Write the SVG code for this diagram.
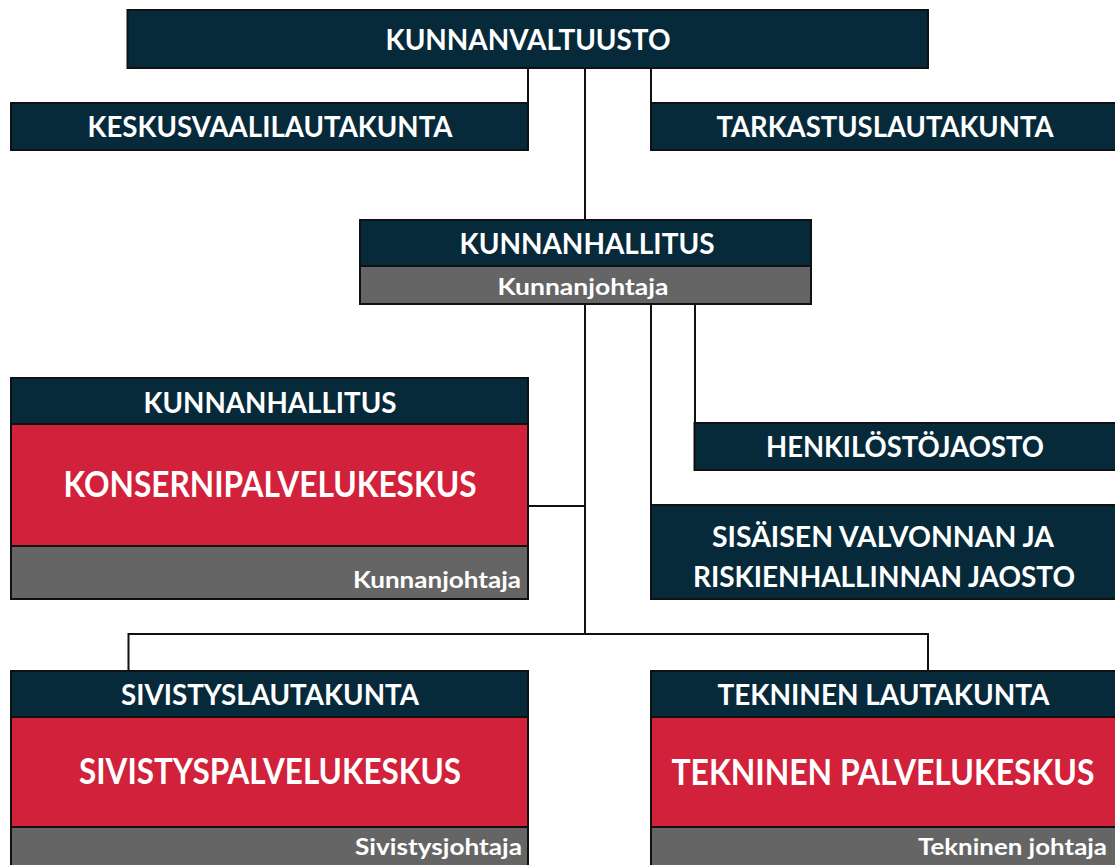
<svg xmlns="http://www.w3.org/2000/svg" width="1115" height="865" viewBox="0 0 1115 865">
<style>
.bg{fill:#ffffff}
.navy{fill:#072a3a;stroke:#111;stroke-width:2}
.red{fill:#d2213a;stroke:#111;stroke-width:2}
.gray{fill:#656565;stroke:#111;stroke-width:2}
.t{font-family:Lato,"Liberation Sans",sans-serif;font-weight:bold;fill:#ffffff}
.h{font-size:28px}
.big{font-size:37px}
.sub{font-size:22px}
.c{text-anchor:middle}
.r{text-anchor:end}
.ln{stroke:#111;stroke-width:2;fill:none}
</style>
<rect class="bg" x="0" y="0" width="1115" height="865"/>
<g id="connectors">
<path class="ln" d="M585,68 V220"/>
<path class="ln" d="M528,68 V103"/>
<path class="ln" d="M651,68 V103"/>
<path class="ln" d="M585,304 V634"/>
<path class="ln" d="M651,304 V505"/>
<path class="ln" d="M695,304 V423"/>
<path class="ln" d="M528,506 H585"/>
<path class="ln" d="M128.5,671 V634 H928 V671"/>
</g>
<g id="kunnanvaltuusto">
<rect class="navy" x="127.5" y="10" width="800.5" height="58"/>
<text class="t h c" x="528" y="50" textLength="285" lengthAdjust="spacingAndGlyphs">KUNNANVALTUUSTO</text>
</g>
<g id="keskusvaalilautakunta">
<rect class="navy" x="11" y="103" width="517" height="47"/>
<text class="t h c" x="270" y="137" textLength="365" lengthAdjust="spacingAndGlyphs">KESKUSVAALILAUTAKUNTA</text>
</g>
<g id="tarkastuslautakunta">
<rect class="navy" x="651" y="103" width="470" height="47"/>
<text class="t h c" x="885" y="137" textLength="337" lengthAdjust="spacingAndGlyphs">TARKASTUSLAUTAKUNTA</text>
</g>
<g id="kunnanhallitus">
<rect class="navy" x="360" y="220" width="451" height="46"/>
<rect class="gray" x="360" y="266" width="451" height="38"/>
<text class="t h c" x="587" y="254" textLength="255" lengthAdjust="spacingAndGlyphs">KUNNANHALLITUS</text>
<text class="t sub c" x="583" y="295" textLength="171" lengthAdjust="spacingAndGlyphs">Kunnanjohtaja</text>
</g>
<g id="henkilostojaosto">
<rect class="navy" x="694.5" y="423" width="426" height="47"/>
<text class="t h c" x="905" y="457" textLength="278" lengthAdjust="spacingAndGlyphs">HENKILÖSTÖJAOSTO</text>
</g>
<g id="sisainen-valvonta">
<rect class="navy" x="651" y="505" width="470" height="94"/>
<text class="t h c" x="883" y="547" textLength="342" lengthAdjust="spacingAndGlyphs">SISÄISEN VALVONNAN JA</text>
<text class="t h c" x="884" y="587" textLength="382" lengthAdjust="spacingAndGlyphs">RISKIENHALLINNAN JAOSTO</text>
</g>
<g id="konsernipalvelukeskus">
<rect class="navy" x="11" y="378" width="517" height="46"/>
<rect class="red" x="11" y="424" width="517" height="122"/>
<rect class="gray" x="11" y="546" width="517" height="53"/>
<text class="t h c" x="270" y="413" textLength="253" lengthAdjust="spacingAndGlyphs">KUNNANHALLITUS</text>
<text class="t big c" x="270" y="497" textLength="413" lengthAdjust="spacingAndGlyphs">KONSERNIPALVELUKESKUS</text>
<text class="t sub r" x="521" y="588" textLength="168" lengthAdjust="spacingAndGlyphs">Kunnanjohtaja</text>
</g>
<g id="sivistyspalvelukeskus">
<rect class="navy" x="11" y="671" width="517" height="46"/>
<rect class="red" x="11" y="717" width="517" height="110"/>
<rect class="gray" x="11" y="827" width="517" height="45"/>
<text class="t h c" x="270" y="705" textLength="298" lengthAdjust="spacingAndGlyphs">SIVISTYSLAUTAKUNTA</text>
<text class="t big c" x="270" y="784" textLength="382" lengthAdjust="spacingAndGlyphs">SIVISTYSPALVELUKESKUS</text>
<text class="t sub r" x="522" y="855" textLength="167" lengthAdjust="spacingAndGlyphs">Sivistysjohtaja</text>
</g>
<g id="tekninen-palvelukeskus">
<rect class="navy" x="651" y="671" width="470" height="46"/>
<rect class="red" x="651" y="717" width="470" height="110"/>
<rect class="gray" x="651" y="827" width="470" height="45"/>
<text class="t h c" x="883.5" y="705" textLength="332" lengthAdjust="spacingAndGlyphs">TEKNINEN LAUTAKUNTA</text>
<text class="t big c" x="883" y="785" textLength="423" lengthAdjust="spacingAndGlyphs">TEKNINEN PALVELUKESKUS</text>
<text class="t sub r" x="1107" y="855" textLength="189" lengthAdjust="spacingAndGlyphs">Tekninen johtaja</text>
</g>
</svg>
